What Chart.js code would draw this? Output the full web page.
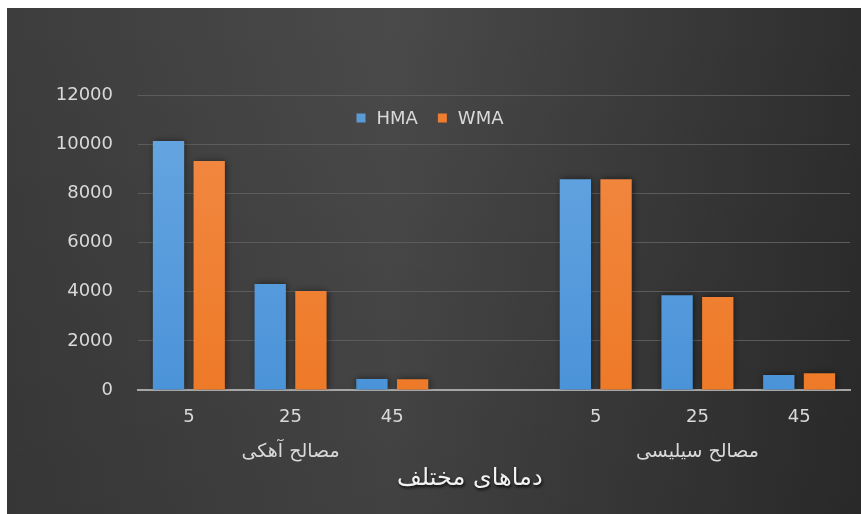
<!DOCTYPE html>
<html>
<head>
<meta charset="utf-8">
<script src="https://cdn.jsdelivr.net/npm/chart.js@4/dist/chart.umd.min.js"></script>
<style>
  html, body { margin: 0; padding: 0; background: #ffffff; }
  #wrap { position: absolute; left: 7px; top: 8px; width: 854px; height: 506px; }
</style>
</head>
<body>
<div id="wrap"><canvas id="c" width="854" height="506"></canvas></div>
<script>
// ---- data ----
const categories = ['5', '25', '45', '', '5', '25', '45'];
const groupLabels = ['', 'مصالح آهکی', '', '', '', 'مصالح سیلیسی', ''];
const axisTitle = 'دماهای مختلف';
const seriesNames = ['HMA', 'WMA'];
const hmaValues = [10130, 4310, 450, null, 8570, 3850, 610];
const wmaValues = [9320, 4030, 440, null, 8570, 3780, 680];
const yTicks = [0, 2000, 4000, 6000, 8000, 10000, 12000];

const textColor = '#d9d9d9';
const fontFamily = '"DejaVu Sans", Verdana, sans-serif';

function barGradient(top, bottom) {
  return function (ctx) {
    const chart = ctx.chart;
    const area = chart.chartArea;
    if (!area) return bottom;
    const g = chart.ctx.createLinearGradient(0, area.top, 0, area.bottom);
    g.addColorStop(0, top);
    g.addColorStop(1, bottom);
    return g;
  };
}

const bgPlugin = {
  id: 'bg',
  beforeDraw(chart) {
    const c = chart.ctx;
    const w = chart.width, h = chart.height;
    const g = c.createLinearGradient(0, 0, w, 0);
    g.addColorStop(0, '#3d3d3d');
    g.addColorStop(0.45, '#4a4a4a');
    g.addColorStop(1, '#2e2e2e');
    c.save();
    c.fillStyle = g;
    c.fillRect(0, 0, w, h);
    const v = c.createLinearGradient(0, 0, 0, h);
    v.addColorStop(0, 'rgba(0,0,0,0)');
    v.addColorStop(1, 'rgba(0,0,0,0.12)');
    c.fillStyle = v;
    c.fillRect(0, 0, w, h);
    c.restore();
  },
  beforeDatasetsDraw(chart) {
    const c = chart.ctx;
    c.save();
    c.shadowColor = 'rgba(0,0,0,0.55)';
    c.shadowBlur = 7;
    c.shadowOffsetX = 1;
    c.shadowOffsetY = 0;
  },
  afterDatasetsDraw(chart) {
    chart.ctx.restore();
  }
};

const legendPlugin = {
  id: 'innerLegend',
  afterDraw(chart) {
    const c = chart.ctx;
    const area = chart.chartArea;
    c.save();
    c.font = '18px ' + fontFamily;
    c.textBaseline = 'middle';
    const box = 9, gapText = 11, gapItem = 20;
    const items = chart.data.datasets.map(ds => ({ label: ds.label, color: ds.legendColor }));
    let total = 0;
    items.forEach((it, i) => {
      total += box + gapText + c.measureText(it.label).width + (i < items.length - 1 ? gapItem : 0);
    });
    let x = chart.width / 2 - total / 2 - 4;
    const y = area.top + 23;
    items.forEach(it => {
      c.fillStyle = it.color;
      c.fillRect(x, y - box / 2, box, box);
      x += box + gapText;
      c.fillStyle = textColor;
      c.fillText(it.label, x, y + 1);
      x += c.measureText(it.label).width + gapItem;
    });
    c.restore();
  }
};

const axisTitlePlugin = {
  id: 'axisTitle',
  afterDraw(chart) {
    const c = chart.ctx;
    const area = chart.chartArea;
    const x2 = chart.scales.x2;
    c.save();
    c.font = '24px ' + fontFamily;
    c.textAlign = 'center';
    c.textBaseline = 'middle';
    c.direction = 'rtl';
    c.shadowColor = 'rgba(0,0,0,0.8)';
    c.shadowBlur = 3;
    c.shadowOffsetX = 1;
    c.shadowOffsetY = 2;
    c.fillStyle = '#f2f2f2';
    c.fillText(axisTitle, area.left + (area.right - area.left) * 0.466, x2.bottom + 15);
    c.restore();
  }
};

new Chart(document.getElementById('c'), {
  type: 'bar',
  data: {
    labels: categories,
    datasets: [
      {
        label: seriesNames[0],
        data: hmaValues,
        backgroundColor: barGradient('#68a7e2', '#4b93d8'),
        legendColor: '#5b9bd5',
        borderWidth: 0,
        categoryPercentage: 0.8,
        barPercentage: 0.77
      },
      {
        label: seriesNames[1],
        data: wmaValues,
        backgroundColor: barGradient('#f28a45', '#ee7a28'),
        legendColor: '#ed7d31',
        borderWidth: 0,
        categoryPercentage: 0.8,
        barPercentage: 0.77
      }
    ]
  },
  options: {
    responsive: false,
    devicePixelRatio: 1,
    animation: false,
    layout: { padding: { top: 87, left: 0, right: 11, bottom: 50 } },
    plugins: {
      legend: { display: false },
      tooltip: { enabled: false },
      title: { display: false }
    },
    scales: {
      x: {
        type: 'category',
        position: 'bottom',
        grid: { display: false, drawTicks: false, tickLength: 0 },
        border: { display: true, color: '#a6a6a6', width: 2 },
        ticks: { color: textColor, font: { family: fontFamily, size: 18 }, padding: 17, maxRotation: 0, autoSkip: false },
        afterFit(scale) { scale.height = 46; }
      },
      x2: {
        type: 'category',
        position: 'bottom',
        labels: groupLabels,
        grid: { display: false, drawTicks: false, tickLength: 0 },
        border: { display: false },
        ticks: { color: textColor, font: { family: fontFamily, size: 19 }, padding: 5, maxRotation: 0, autoSkip: false },
        afterFit(scale) { scale.height = 28; }
      },
      y: {
        min: 0,
        max: 12000,
        afterBuildTicks(scale) { scale.ticks = yTicks.map(v => ({ value: v })); },
        grid: { color: '#5c5c5c', lineWidth: 1, drawTicks: false, tickLength: 0 },
        border: { display: false },
        ticks: {
          color: textColor,
          font: { family: fontFamily, size: 18 },
          padding: 25,
          callback: (value) => String(value)
        },
        afterFit(scale) { scale.width = 131; }
      }
    }
  },
  plugins: [bgPlugin, legendPlugin, axisTitlePlugin]
});
</script>
</body>
</html>
